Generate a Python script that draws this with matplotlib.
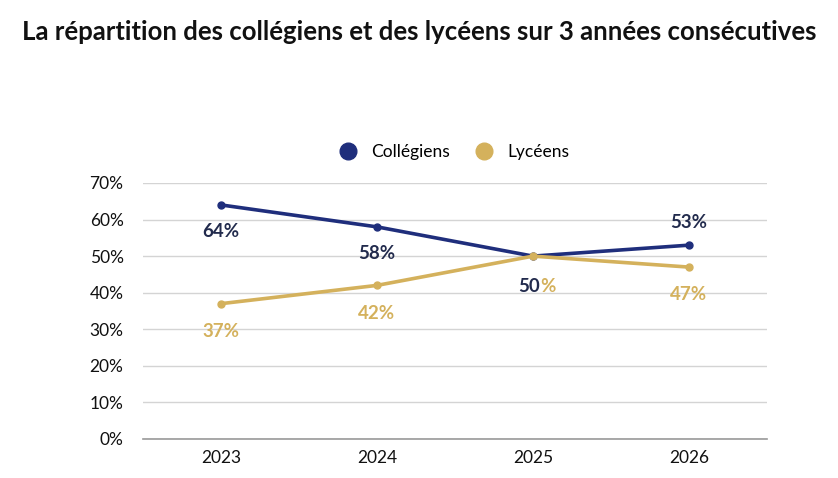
import matplotlib.pyplot as plt

# data
years = ['2023', '2024', '2025', '2026']
colleges = [64, 58, 50, 53]
lycees = [37, 42, 50, 47]
yticks = [0, 10, 20, 30, 40, 50, 60, 70]

NAVY = '#1f2e7c'
NAVY_TXT = '#222b4d'
GOLD = '#d4b15c'


def main():
    plt.rcParams['font.family'] = ['Lato', 'DejaVu Sans']
    fig = plt.figure(figsize=(8.38, 4.78), dpi=100)
    ax = fig.add_axes([0.1706, 0.0816, 0.7447, 0.5356])

    x = [i + 0.5 for i in range(len(years))]
    ax.plot(x, colleges, color=NAVY, lw=2.6, marker='o', ms=5, label='Collégiens', zorder=3)
    ax.plot(x, lycees, color=GOLD, lw=2.6, marker='o', ms=5, label='Lycéens', zorder=3)

    # labels for collegiens: below except last
    for i, v in enumerate(colleges):
        if i == len(colleges) - 1:
            dy = 16
        elif v == lycees[i]:
            dy = -22
        else:
            dy = -19
        s = '%d' % v if v == lycees[i] else '%d%%' % v
        ha = 'right' if v == lycees[i] else 'center'
        ax.annotate(s, (x[i], v), xytext=(5 if ha == 'right' else 0, dy), textcoords='offset points',
                    ha=ha, va='center', fontsize=13.5, fontweight='bold', color=NAVY_TXT)
    for i, v in enumerate(lycees):
        if v == colleges[i]:
            ax.annotate('%', (x[i], v), xytext=(5, -22), textcoords='offset points',
                        ha='left', va='center', fontsize=13.5, fontweight='bold', color=GOLD)
            continue
        ax.annotate('%d%%' % v, (x[i], v), xytext=(0, -20), textcoords='offset points',
                    ha='center', va='center', fontsize=13.5, fontweight='bold', color=GOLD)

    ax.set_xlim(0, len(years))
    ax.set_ylim(0, 70)
    ax.set_xticks(x)
    ax.set_xticklabels(years)
    ax.set_yticks(yticks)
    ax.set_yticklabels(['%d%%' % t for t in yticks])
    ax.tick_params(length=0, labelsize=12.5, colors='#111111')
    ax.tick_params(axis='y', pad=14)
    ax.tick_params(axis='x', pad=8)
    ax.grid(axis='y', color='#d4d4d4', lw=1)
    ax.set_axisbelow(True)
    for sp in ['top', 'right', 'left']:
        ax.spines[sp].set_visible(False)
    ax.spines['bottom'].set_color('#999999')
    ax.spines['bottom'].set_linewidth(1.2)

    h1 = plt.Line2D([], [], color=NAVY, marker='o', ls='', ms=12)
    h2 = plt.Line2D([], [], color=GOLD, marker='o', ls='', ms=12)
    fig.legend([h1, h2], ['Collégiens', 'Lycéens'], loc='center', bbox_to_anchor=(0.537, 0.682),
               ncol=2, frameon=False, fontsize=12.5, handletextpad=0.3, columnspacing=1.0)

    fig.text(0.5, 0.933, 'La répartition des collégiens et des lycéens sur 3 années consécutives',
             ha='center', va='center', fontsize=18.5, fontweight='bold', color='#111111')

    fig.savefig('out.png', dpi=100)


if __name__ == "__main__":
    main()
